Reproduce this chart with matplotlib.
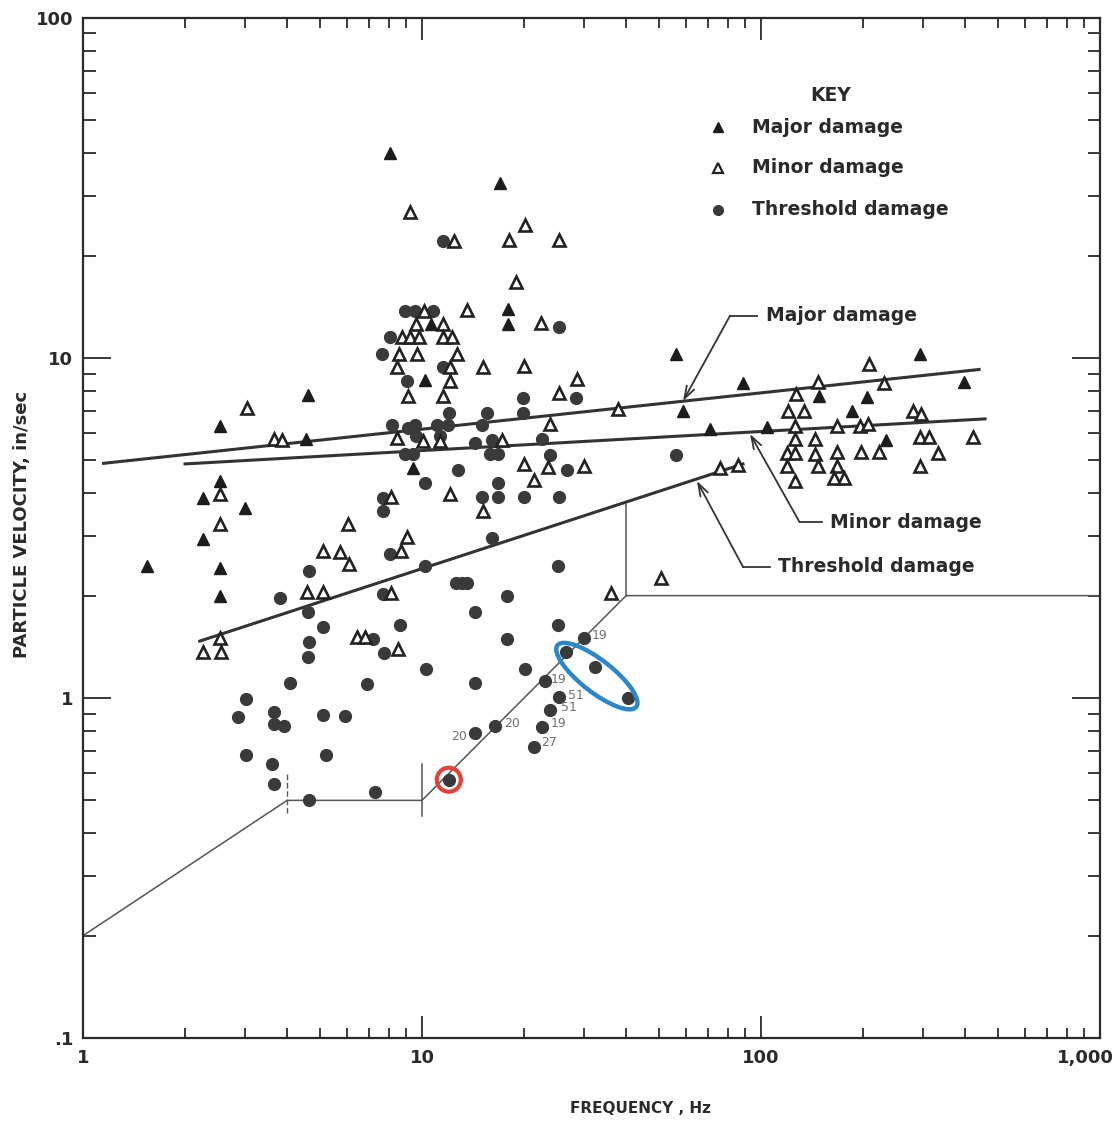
import numpy as np
import matplotlib
matplotlib.use("Agg")
import matplotlib.pyplot as plt
from matplotlib.patches import Ellipse, Circle
from matplotlib.transforms import ScaledTranslation
from matplotlib.ticker import FixedLocator, FixedFormatter, LogLocator, NullFormatter

# (frequency Hz, particle velocity in/sec)
major_damage = [
    (1.54, 2.44), (2.54, 6.3), (2.54, 4.35), (2.54, 2.41), (2.54, 2.0), (3.0, 3.62),
    (2.26, 3.87), (2.26, 2.94), (4.61, 7.8), (4.55, 5.78), (8.05, 40.1), (17.0, 32.7),
    (9.4, 4.75), (10.2, 8.6), (17.9, 13.9), (17.9, 12.6), (10.6, 12.6), (56, 10.3),
    (58.9, 7.0), (88.5, 8.45), (70.7, 6.2), (104, 6.27), (148, 7.73), (185, 7.0),
    (205, 7.68), (294, 10.3), (397, 8.5), (234, 5.74),
]

minor_damage = [
    (3.05, 7.13), (3.66, 5.78), (3.86, 5.74), (2.54, 3.98), (2.54, 3.25), (6.05, 3.25),
    (5.1, 2.71), (5.73, 2.69), (6.09, 2.48), (4.58, 2.05), (5.1, 2.05), (2.26, 1.37),
    (2.55, 1.37), (2.54, 1.5), (6.43, 1.51), (6.79, 1.51), (8.5, 1.39), (9.03, 2.98),
    (8.67, 2.7), (8.11, 2.03), (8.11, 3.9),
    (10.14, 13.7), (9.6, 12.6), (11.5, 12.6), (8.73, 11.5), (9.22, 11.5), (9.8, 11.5),
    (11.5, 11.5), (12.3, 11.5), (8.55, 10.3), (9.66, 10.3), (12.7, 10.3), (8.44, 9.41),
    (12.1, 9.41), (15.1, 9.41), (12.1, 8.56), (9.09, 7.73), (11.5, 7.73), (12.4, 22.1),
    (9.2, 26.9), (18.9, 16.7), (18.1, 22.2), (25.4, 22.2), (20.1, 24.6), (13.6, 13.8),
    (22.4, 12.7), (20.0, 9.47), (28.7, 8.67), (25.4, 7.89), (23.9, 6.4), (8.44, 5.82),
    (10.07, 5.7), (11.3, 5.7), (17.2, 5.74), (20.0, 4.88), (23.5, 4.78), (30.1, 4.81),
    (21.4, 4.38), (12.1, 3.98), (15.1, 3.55), (37.9, 7.08), (75.7, 4.75), (85.5, 4.85),
    (50.7, 2.25), (36.1, 2.04),
    (208, 9.6), (147, 8.5), (231, 8.45), (127, 7.84), (120, 7.0), (134, 7.0), (281, 7.0),
    (297, 6.85), (126, 6.3), (168, 6.3), (196, 6.3), (207, 6.4), (126, 5.78), (144, 5.78),
    (294, 5.86), (313, 5.86), (422, 5.86), (119, 5.26), (126, 5.26), (144, 5.22),
    (168, 5.3), (197, 5.3), (223, 5.3), (333, 5.26), (119, 4.81), (147, 4.81), (168, 4.81),
    (294, 4.81), (126, 4.35), (164, 4.44), (176, 4.44),
]

threshold_damage = [
    (8.91, 13.7), (9.53, 13.7), (10.8, 13.7), (8.05, 11.5), (7.62, 10.3), (11.5, 9.41),
    (9.03, 8.56), (11.5, 22.1), (25.4, 12.3), (28.5, 7.63), (19.9, 7.63), (19.9, 6.89),
    (12.0, 6.89), (15.6, 6.89), (8.16, 6.35), (9.09, 6.22), (9.53, 6.35), (11.1, 6.35),
    (11.9, 6.35), (15.0, 6.35), (9.6, 5.9), (11.3, 5.9), (14.3, 5.62), (16.1, 5.74),
    (22.6, 5.78), (8.91, 5.22), (9.4, 5.22), (15.9, 5.22), (16.8, 5.22), (23.9, 5.19),
    (56, 5.19), (12.8, 4.68), (26.8, 4.68), (10.2, 4.29), (16.8, 4.29), (15.0, 3.9),
    (16.8, 3.9), (20.0, 3.9), (25.4, 3.9), (7.67, 3.55), (16.1, 2.96), (7.65, 3.87),
    (8.05, 2.65), (10.2, 2.44), (25.2, 2.44), (12.6, 2.18), (13.1, 2.18), (13.6, 2.18),
    (17.8, 2.0), (7.67, 2.02), (14.3, 1.79), (8.61, 1.64), (25.2, 1.64), (17.8, 1.49),
    (30.1, 1.5), (26.6, 1.37), (32.4, 1.23), (40.5, 1.0), (10.28, 1.22), (20.1, 1.22),
    (23.1, 1.12), (25.4, 1.01), (23.9, 0.92), (22.6, 0.82), (21.4, 0.72), (16.4, 0.83),
    (14.3, 0.79), (12.0, 0.575), (14.3, 1.11), (6.88, 1.1), (4.08, 1.11), (3.03, 0.99),
    (2.87, 0.88), (3.66, 0.91), (3.66, 0.84), (3.92, 0.83), (5.1, 0.89), (5.93, 0.885),
    (3.03, 0.68), (5.21, 0.68), (3.61, 0.64), (3.66, 0.56), (4.64, 0.5), (7.26, 0.53),
    (4.64, 2.36), (3.81, 1.97), (4.61, 1.79), (5.1, 1.62), (4.64, 1.46), (4.61, 1.32),
    (7.17, 1.49), (7.73, 1.36),
]

# fitted damage lines and the lower limit envelope
major_line_f = [1.15, 440]
major_line_v = [4.9, 9.25]
minor_line_f = [2.0, 458]
minor_line_v = [4.88, 6.62]
thresh_line_f = [2.21, 88.5]
thresh_line_v = [1.47, 4.88]
limit_f = [1, 4, 10, 40, 1000]
limit_v = [0.2, 0.5, 0.5, 2.0, 2.0]

# little shot numbers next to points
note_text = ["19", "19", "51", "51", "19", "27", "20", "20"]
note_f = [33.5, 25.2, 28.5, 27.2, 25.2, 23.7, 18.4, 12.9]
note_v = [1.53, 1.13, 1.02, 0.935, 0.84, 0.74, 0.84, 0.77]

x_ticks = [1, 10, 100, 1000]
x_tick_labels = ["1", "10", "100", "1,000"]
y_ticks = [0.1, 1, 10, 100]
y_tick_labels = [".1", "1", "10", "100"]

ink = "#2a2a2a"

fig = plt.figure(figsize=(11.2, 11.21), dpi=100)
ax = fig.add_axes([0.0741, 0.074, 0.908, 0.910])
ax.set_xscale("log")
ax.set_yscale("log")
ax.set_xlim(1, 1000)
ax.set_ylim(0.1, 100)

# lines
ax.plot(major_line_f, major_line_v, color="#333", lw=2.2, zorder=2)
ax.plot(minor_line_f, minor_line_v, color="#333", lw=2.2, zorder=2)
ax.plot(thresh_line_f, thresh_line_v, color="#333", lw=2.2, zorder=2)
ax.plot(limit_f, limit_v, color="#555", lw=1.1, zorder=2)
ax.plot([4, 4], [0.46, 0.6], color="#555", lw=1.0, ls=(0, (4, 2)))
ax.plot([10, 10], [0.45, 0.64], color="#555", lw=1.1)
ax.plot([40, 40], [2.0, 3.72], color="#555", lw=1.1)

# points
th = np.array(threshold_damage)
mi = np.array(minor_damage)
ma = np.array(major_damage)
ax.plot(th[:, 0], th[:, 1], "o", ms=8.5, color="#3a3a3a", zorder=4)
ax.plot(mi[:, 0], mi[:, 1], "^", ms=9, mfc="white", mec="#222", mew=1.9, zorder=5)
ax.plot(ma[:, 0], ma[:, 1], "^", ms=9, color="#1c1c1c", zorder=5)

for s, f, v in zip(note_text, note_f, note_v):
    ax.text(f, v, s, fontsize=9, color="#707070", ha="center", va="center", zorder=6)

# leader annotations
arrow = dict(arrowstyle="->,head_length=0.9,head_width=0.3", lw=1.3, color="#333",
             shrinkA=0, shrinkB=0)
lab = dict(fontsize=13.5, fontweight="bold", color=ink, ha="left", va="center")
ax.plot([97.5, 81], [13.3, 13.3], color="#333", lw=1.3)
ax.annotate("", xy=(58.9, 7.47), xytext=(81, 13.3), arrowprops=arrow)
ax.text(103.5, 13.3, "Major damage", **lab)

ax.plot([151, 130], [3.29, 3.29], color="#333", lw=1.3)
ax.annotate("", xy=(92.8, 5.98), xytext=(130, 3.29), arrowprops=arrow)
ax.text(160, 3.29, "Minor damage", **lab)

ax.plot([106, 88.5], [2.43, 2.43], color="#333", lw=1.3)
ax.annotate("", xy=(64.7, 4.35), xytext=(88.5, 2.43), arrowprops=arrow)
ax.text(112, 2.43, "Threshold damage", **lab)

# key
ax.text(0.735, 0.924, "KEY", transform=ax.transAxes, fontsize=13.5, fontweight="bold",
        color=ink, ha="center", va="center")
key_rows = [("Major damage", 0.893), ("Minor damage", 0.853), ("Threshold damage", 0.812)]
ax.plot([0.624], [0.893], "^", ms=7, color="#1c1c1c", transform=ax.transAxes)
ax.plot([0.624], [0.853], "^", ms=7, mfc="white", mec="#222", mew=1.6, transform=ax.transAxes)
ax.plot([0.624], [0.812], "o", ms=7, color="#3a3a3a", transform=ax.transAxes)
for label, yy in key_rows:
    ax.text(0.658, yy, label, transform=ax.transAxes, **lab)

# highlight marks
ell_trans = fig.dpi_scale_trans + ScaledTranslation(32.8, 1.16, ax.transData)
ax.add_patch(Ellipse((0, 0), width=1.0, height=0.32, angle=-38, transform=ell_trans,
                     fill=False, ec="#2b87c9", lw=3.2, zorder=7, clip_on=False))
ring_trans = fig.dpi_scale_trans + ScaledTranslation(12.0, 0.575, ax.transData)
ax.add_patch(Circle((0, 0), radius=0.12, transform=ring_trans, fill=False,
                    ec="#e5403a", lw=3.0, zorder=7, clip_on=False))

# axes styling
for sp in ax.spines.values():
    sp.set_linewidth(1.6)
    sp.set_color(ink)

ax.xaxis.set_major_locator(FixedLocator(x_ticks))
ax.xaxis.set_major_formatter(FixedFormatter(x_tick_labels))
ax.xaxis.set_minor_locator(LogLocator(base=10, subs=np.arange(2, 10)))
ax.xaxis.set_minor_formatter(NullFormatter())
ax.yaxis.set_major_locator(FixedLocator(y_ticks))
ax.yaxis.set_major_formatter(FixedFormatter(y_tick_labels))
ax.yaxis.set_minor_locator(LogLocator(base=10, subs=np.arange(2, 10)))
ax.yaxis.set_minor_formatter(NullFormatter())

ax.tick_params(which="both", direction="in", top=True, right=True, color=ink, width=1.3,
               labelcolor=ink)
ax.tick_params(axis="x", which="major", length=16, labelsize=13, pad=8)
ax.tick_params(axis="x", which="minor", length=7)
ax.tick_params(axis="y", which="major", length=20, labelsize=13, pad=7)
ax.tick_params(axis="y", which="minor", length=9)
for t in ax.get_xticklabels() + ax.get_yticklabels():
    t.set_fontweight("bold")

# keep "1,000" inside the picture
fig.canvas.draw()
last = ax.get_xticklabels()[-1]
last.set_ha("right")
last.set_transform(last.get_transform() + ScaledTranslation(0.14, 0, fig.dpi_scale_trans))

ax.text(0.548, -0.069, "FREQUENCY , Hz", transform=ax.transAxes, fontsize=11,
        fontweight="bold", color=ink, ha="center", va="center")
ax.text(-0.06, 0.503, "PARTICLE VELOCITY, in/sec", transform=ax.transAxes, fontsize=13,
        fontweight="bold", color=ink, ha="center", va="center", rotation=90)

fig.savefig("out.png", dpi=100)
